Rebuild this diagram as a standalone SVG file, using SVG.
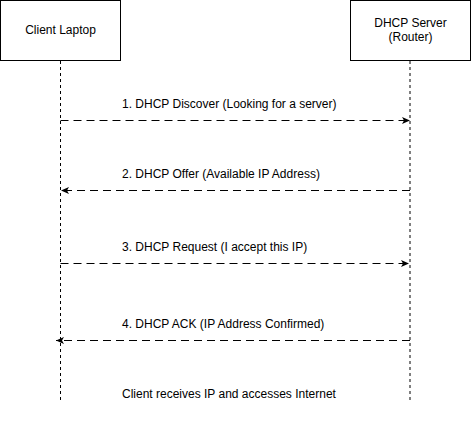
<svg xmlns="http://www.w3.org/2000/svg" width="471" height="421" viewBox="0 0 471 421">
<style>
text{font-family:"Liberation Sans",Arial,sans-serif;font-size:12px;fill:#000;text-anchor:middle}
text.l{text-anchor:start}
.box{fill:#fff;stroke:#000;stroke-width:1}
.life{stroke:#000;stroke-width:1;stroke-dasharray:3 3;fill:none}
.msg{stroke:#000;stroke-width:1;stroke-dasharray:8 5;fill:none}
</style>
<defs>
<marker id="ah" viewBox="0 0 8 8" refX="8" refY="4" markerWidth="8" markerHeight="8" markerUnits="userSpaceOnUse" orient="auto">
<path d="M0,0.5 L8,4 L0,7.5 L2,4 Z" fill="#000"/>
</marker>
</defs>
<rect width="471" height="421" fill="#fff"/>
<g id="client">
<rect class="box" x="0.5" y="0.5" width="120" height="60"/>
<text x="60.5" y="34">Client Laptop</text>
<line class="life" x1="60.5" y1="61" x2="60.5" y2="401"/>
</g>
<g id="server">
<rect class="box" x="350.5" y="0.5" width="120" height="60"/>
<text x="410.5" y="27">DHCP Server</text>
<text x="410.5" y="41">(Router)</text>
<line class="life" x1="410" y1="61" x2="410" y2="401"/>
</g>
<g id="connectors">
<line class="msg" x1="60.5" y1="120.5" x2="410" y2="120.5" marker-end="url(#ah)"/>
<line class="msg" x1="410" y1="190.5" x2="61" y2="190.5" marker-end="url(#ah)"/>
<line class="msg" x1="60.5" y1="263.5" x2="409" y2="263.5" marker-end="url(#ah)"/>
<line class="msg" x1="410" y1="340.5" x2="56" y2="340.5" marker-end="url(#ah)"/>
</g>
<g id="labels">
<text class="l" x="122" y="108">1. DHCP Discover (Looking for a server)</text>
<text class="l" x="122" y="178">2. DHCP Offer (Available IP Address)</text>
<text class="l" x="122" y="251">3. DHCP Request (I accept this IP)</text>
<text class="l" x="122" y="328">4. DHCP ACK (IP Address Confirmed)</text>
<text class="l" x="122" y="398">Client receives IP and accesses Internet</text>
</g>
</svg>
